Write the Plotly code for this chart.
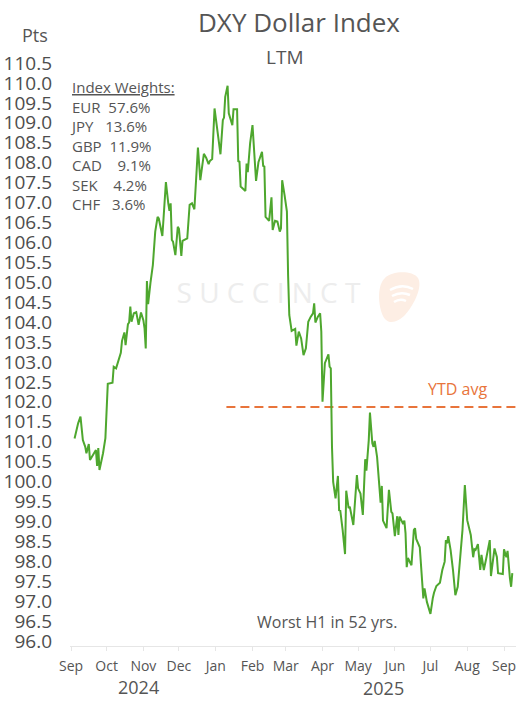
import plotly.graph_objects as go
import pandas as pd

# ---------------- data ----------------
dates = [
    "2024-09-04", "2024-09-07", "2024-09-09", "2024-09-11", "2024-09-13", "2024-09-14", "2024-09-16",
    "2024-09-17", "2024-09-20", "2024-09-22", "2024-09-23", "2024-09-24", "2024-09-25", "2024-09-28",
    "2024-09-30", "2024-10-02", "2024-10-06", "2024-10-07", "2024-10-09", "2024-10-12", "2024-10-13",
    "2024-10-14", "2024-10-16", "2024-10-17", "2024-10-19", "2024-10-20", "2024-10-21", "2024-10-22",
    "2024-10-24", "2024-10-26", "2024-10-28", "2024-10-30", "2024-11-01", "2024-11-02", "2024-11-03",
    "2024-11-04", "2024-11-05", "2024-11-07", "2024-11-09", "2024-11-11", "2024-11-13", "2024-11-14",
    "2024-11-17", "2024-11-18", "2024-11-20", "2024-11-22", "2024-11-23", "2024-11-24", "2024-11-25",
    "2024-11-26", "2024-11-28", "2024-11-30", "2024-12-01", "2024-12-03", "2024-12-04", "2024-12-08",
    "2024-12-10", "2024-12-12", "2024-12-14", "2024-12-16", "2024-12-17", "2024-12-19", "2024-12-22",
    "2024-12-24", "2024-12-26", "2024-12-27", "2024-12-29", "2024-12-31", "2025-01-02", "2025-01-05",
    "2025-01-07", "2025-01-08", "2025-01-09", "2025-01-11", "2025-01-12", "2025-01-15", "2025-01-16",
    "2025-01-19", "2025-01-20", "2025-01-21", "2025-01-22", "2025-01-26", "2025-01-27", "2025-01-28",
    "2025-01-30", "2025-02-01", "2025-02-04", "2025-02-06", "2025-02-09", "2025-02-10", "2025-02-11",
    "2025-02-12", "2025-02-15", "2025-02-17", "2025-02-18", "2025-02-20", "2025-02-22", "2025-02-24",
    "2025-02-25", "2025-02-26", "2025-02-28", "2025-03-02", "2025-03-03", "2025-03-04", "2025-03-06",
    "2025-03-09", "2025-03-10", "2025-03-12", "2025-03-14", "2025-03-16", "2025-03-18", "2025-03-20",
    "2025-03-22", "2025-03-24", "2025-03-25", "2025-03-26", "2025-03-28", "2025-03-30", "2025-03-31",
    "2025-04-01", "2025-04-03", "2025-04-06", "2025-04-07", "2025-04-08", "2025-04-09", "2025-04-10",
    "2025-04-12", "2025-04-14", "2025-04-15", "2025-04-16", "2025-04-18", "2025-04-20", "2025-04-21",
    "2025-04-23", "2025-04-24", "2025-04-27", "2025-04-28", "2025-04-30", "2025-05-01", "2025-05-03",
    "2025-05-05", "2025-05-07", "2025-05-08", "2025-05-10", "2025-05-11", "2025-05-13", "2025-05-14",
    "2025-05-15", "2025-05-17", "2025-05-18", "2025-05-20", "2025-05-21", "2025-05-22", "2025-05-25",
    "2025-05-27", "2025-05-29", "2025-05-30", "2025-06-01", "2025-06-03", "2025-06-04", "2025-06-05",
    "2025-06-08", "2025-06-09", "2025-06-10", "2025-06-11", "2025-06-12", "2025-06-15", "2025-06-17",
    "2025-06-18", "2025-06-19", "2025-06-22", "2025-06-25", "2025-06-26", "2025-06-28", "2025-07-01",
    "2025-07-03", "2025-07-04", "2025-07-06", "2025-07-09", "2025-07-11", "2025-07-13", "2025-07-14",
    "2025-07-15", "2025-07-16", "2025-07-18", "2025-07-20", "2025-07-22", "2025-07-24", "2025-07-27",
    "2025-07-28", "2025-07-30", "2025-08-01", "2025-08-04", "2025-08-06", "2025-08-07", "2025-08-08",
    "2025-08-10", "2025-08-12", "2025-08-13", "2025-08-15", "2025-08-17", "2025-08-18", "2025-08-20",
    "2025-08-21", "2025-08-23", "2025-08-24", "2025-08-26", "2025-08-27", "2025-08-31", "2025-09-01",
    "2025-09-03", "2025-09-04", "2025-09-06", "2025-09-07", "2025-09-08",
]
dxy = [
    101.08, 101.46, 101.63, 101.04, 100.87, 100.71, 100.94,
    100.54, 100.69, 100.79, 100.39, 100.84, 100.29, 100.71,
    101.09, 102.45, 102.48, 102.88, 102.84, 103.17, 103.23,
    103.53, 103.74, 103.42, 103.95, 103.99, 104.39, 104.01,
    104.22, 104.25, 103.93, 104.24, 104.05, 103.84, 103.34,
    105.03, 104.45, 104.99, 105.43, 106.27, 106.64, 106.60,
    106.16, 106.60, 107.51, 106.98, 106.79, 106.98, 106.06,
    106.02, 105.68, 106.39, 106.34, 105.66, 106.04, 106.10,
    106.94, 106.98, 106.83, 107.86, 108.38, 107.56, 108.22,
    108.12, 107.96, 108.04, 108.09, 109.36, 108.86, 108.21,
    109.07, 109.13, 109.65, 109.93, 109.24, 108.94, 109.34,
    109.34, 108.02, 108.04, 107.40, 107.29, 107.98, 107.76,
    108.49, 108.94, 107.54, 108.01, 108.27, 107.92, 107.90,
    106.64, 106.54, 107.13, 106.31, 106.54, 106.52, 106.27,
    106.35, 107.56, 107.19, 106.77, 105.18, 104.18, 103.78,
    103.83, 103.41, 103.76, 103.59, 103.17, 103.34, 104.01,
    104.13, 104.22, 104.47, 103.99, 104.13, 104.22, 103.76,
    102.00, 102.97, 103.19, 102.88, 102.84, 100.87, 99.99,
    99.58, 100.14, 99.28, 99.27, 98.78, 98.18, 99.77,
    99.33, 99.37, 98.91, 99.33, 100.16, 99.83, 99.70,
    99.16, 100.56, 100.27, 101.04, 101.73, 100.96, 100.87,
    101.02, 100.62, 100.21, 99.47, 99.89, 99.02, 98.83,
    99.79, 99.24, 99.20, 98.63, 99.13, 98.66, 99.12,
    98.93, 99.02, 98.70, 97.85, 98.08, 97.90, 98.78,
    98.83, 98.56, 98.35, 97.07, 97.32, 96.98, 96.68,
    97.08, 97.21, 97.38, 97.46, 97.78, 97.99, 98.53,
    98.45, 98.63, 98.28, 97.78, 97.15, 97.36, 98.60,
    98.78, 99.91, 99.03, 98.66, 98.10, 98.30, 98.28,
    98.43, 97.78, 98.16, 97.78, 98.07, 98.20, 98.53,
    97.63, 98.10, 98.32, 98.11, 97.70, 97.68, 98.30,
    98.10, 98.26, 97.57, 97.36, 97.70,
]
ytd_avg = 101.87
ytd_dates = ["2025-01-10", "2025-09-11"]

weights_ccy = ["EUR", "JPY", "GBP", "CAD", "SEK", "CHF"]
weights_pct = ["57.6%", "13.6%", "11.9%", "9.1%", "4.2%", "3.6%"]
weights_gap = [2, 3, 2, 4, 4, 3]

year_labels = ["2024", "2025"]

# ---------------- layout helpers ----------------
W, H = 529, 704
PL, PT, PR, PB = 70, 58, 13, 58
PW, PH = W - PL - PR, H - PT - PB


def px(x):
    return (x - PL) / PW


def py(y):
    return (PT + PH - y) / PH


X0 = pd.Timestamp("2024-09-01")
PX_PER_DAY = 433 / 365


def xdate(x):
    return X0 + pd.Timedelta(days=(x - 71) / PX_PER_DAY)


def yval(y):
    return 110.5 - (y - 63) / 39.86


FONT = "Open Sans, Noto Sans, sans-serif"
TXT = "#555555"
GREEN = "#4ea72e"
ORANGE = "#e8743b"

fig = go.Figure()

# watermark text (beneath the line)
fig.add_trace(go.Scatter(
    x=[xdate(268.5)], y=[yval(296)], mode="text",
    text=["S U C C I N C T"],
    textfont=dict(family=FONT, size=28, color="#ededed"),
    hoverinfo="skip", showlegend=False,
))

fig.add_trace(go.Scatter(
    x=ytd_dates, y=[ytd_avg, ytd_avg], mode="lines",
    line=dict(color=ORANGE, width=2, dash="9px,5px"),
    hoverinfo="skip", showlegend=False,
))

fig.add_trace(go.Scatter(
    x=dates, y=dxy, mode="lines",
    line=dict(color=GREEN, width=2),
    showlegend=False,
))

ann = []


def add_text(text, x, y, size, color=TXT, xanchor="center", yanchor="middle", align="center"):
    ann.append(dict(text=text, x=px(x), y=py(y), xref="paper", yref="paper",
                    xanchor=xanchor, yanchor=yanchor, align=align, showarrow=False,
                    font=dict(family=FONT, size=size, color=color)))


add_text("DXY Dollar Index", 298.5, 22, 26)
add_text("LTM", 284.5, 57, 19)
add_text("Pts", 35, 35, 18)

lines = ["<u>Index Weights:</u>"] + [
    c + "\u00a0" * g + p for c, p, g in zip(weights_ccy, weights_pct, weights_gap)
]
add_text("<br>".join(lines), 68, 75, 15, xanchor="left", yanchor="top", align="left")

add_text("YTD avg", 457, 389, 16, color=ORANGE)
add_text("Worst H1 in 52 yrs.", 327, 622, 16)
add_text(year_labels[0], 138, 687, 18)
add_text(year_labels[1], 383, 688, 18)


# logo (watermark) shape
def path(points_cmds):
    out = []
    for cmd, pts in points_cmds:
        coords = " ".join(f"{px(a):.5f},{py(b):.5f}" for a, b in pts)
        out.append(f"{cmd} {coords}")
    return " ".join(out)


logo = path([
    ("M", [(385, 278)]),
    ("C", [(392, 271), (412, 270), (418, 278)]),
    ("C", [(423, 287), (414, 305), (405, 315)]),
    ("C", [(398, 322), (388, 326), (383, 316)]),
    ("C", [(378, 305), (377, 285), (385, 278)]),
    ("Z", []),
])
arcs = [
    path([("M", [(390, 290)]), ("Q", [(402, 283), (413, 289)])]),
    path([("M", [(392, 296)]), ("Q", [(401, 291), (410, 295)])]),
    path([("M", [(394, 302)]), ("Q", [(400, 298), (406, 301)])]),
]
shapes = [dict(type="path", path=logo, xref="paper", yref="paper",
               fillcolor="#fdeee4", line=dict(width=0), layer="below")]
for a in arcs:
    shapes.append(dict(type="path", path=a, xref="paper", yref="paper",
                       line=dict(color="white", width=2.5), layer="below"))

fig.update_layout(
    width=W, height=H, autosize=False,
    margin=dict(l=PL, r=PR, t=PT, b=PB, pad=0, autoexpand=False),
    paper_bgcolor="white", plot_bgcolor="white",
    font=dict(family=FONT, color=TXT),
    annotations=ann, shapes=shapes,
    showlegend=False,
    xaxis=dict(
        type="date", range=[xdate(PL), xdate(W - PR)], automargin=False,
        tick0="2024-09-01", dtick="M1", tickformat="%b",
        showgrid=False, zeroline=False,
        showline=True, linecolor="#e6e6e6", linewidth=1,
        ticks="outside", ticklen=4, tickcolor="#e6e6e6",
        tickfont=dict(family=FONT, size=14, color=TXT),
        ticklabelstandoff=3,
    ),
    yaxis=dict(
        range=[yval(PT + PH), yval(PT)], automargin=False,
        tick0=96, dtick=0.5, tickformat=".1f",
        showgrid=False, zeroline=False, showline=False, ticks="",
        tickfont=dict(family=FONT, size=19, color="#4d4d4d"),
        ticklabelstandoff=17,
    ),
)

# remove the browser's default page margin so the figure sits at the window origin
fig.write_html("out.html",
               config={"displayModeBar": False},
               post_script="document.body.style.margin='0px';document.body.style.padding='0px';")
